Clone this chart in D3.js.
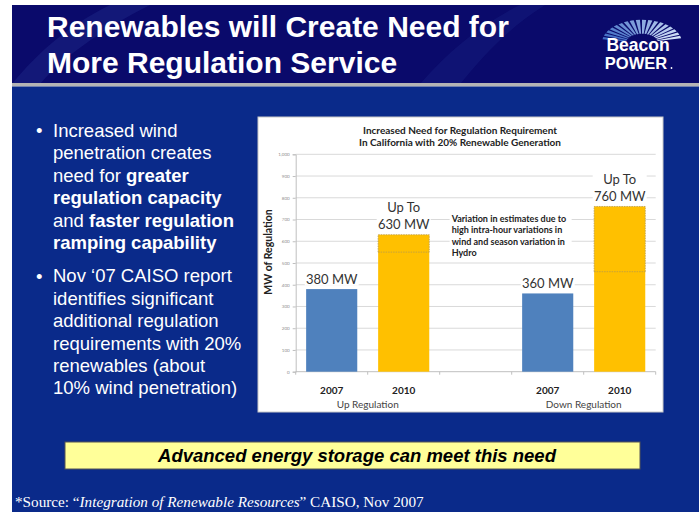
<!DOCTYPE html>
<html>
<head>
<meta charset="utf-8">
<script src="https://cdn.jsdelivr.net/npm/d3@7"></script>
<style>
  body { margin: 0; background: #fff; }
  svg { display: block; }
</style>
</head>
<body>
<div id="slide"></div>
<script>
// slide text
const titleLines = ["Renewables will Create Need for", "More Regulation Service"];
const bullet1 = [
  [["Increased wind", false]],
  [["penetration creates", false]],
  [["need for ", false], ["greater", true]],
  [["regulation capacity", true]],
  [["and ", false], ["faster regulation", true]],
  [["ramping capability", true]]
];
const bullet2 = [
  "Nov \u201807 CAISO report",
  "identifies significant",
  "additional regulation",
  "requirements with 20%",
  "renewables (about",
  "10% wind penetration)"
];
const calloutText = "Advanced energy storage can meet this need";

// chart data
const chartTitle = ["Increased Need for Regulation Requirement", "In California with 20% Renewable Generation"];
const categories = ["up2007", "up2010", "gap", "down2007", "down2010"];
const yearLabels = ["2007", "2010", "", "2007", "2010"];
const baseValues = [380, 550, 0, 360, 460];
const topValues = [380, 630, 0, 360, 760];
const barColors = ["#4f81bd", "#ffc000", "none", "#4f81bd", "#ffc000"];
const valueLabels = [["380 MW"], ["Up To", "630 MW"], [], ["360 MW"], ["Up To", "760 MW"]];
const groupLabels = ["Up Regulation", "Down Regulation"];
const groupMembers = [["up2007", "up2010"], ["down2007", "down2010"]];
const yTicks = [0, 100, 200, 300, 400, 500, 600, 700, 800, 900, 1000];
const yTitle = "MW of Regulation";
const noteLines = ["Variation in estimates due to", "high intra-hour variations in", "wind and season variation in", "Hydro"];

const W = 699, H = 512;
const svg = d3.select("#slide").append("svg").attr("width", W).attr("height", H);

// background
svg.append("rect").attr("x", 12).attr("y", 5).attr("width", W - 12).attr("height", 80).attr("fill", "#0a0a6b");
svg.append("path")
  .attr("d", "M12,84 C40,50 70,25 110,5 L150,5 C100,30 60,60 40,84 Z")
  .attr("fill", "#1f2a8a").attr("opacity", 0.45);
svg.append("path")
  .attr("d", "M420,84 C450,50 480,25 520,5 L545,5 C505,30 480,60 460,84 Z")
  .attr("fill", "#1f2a8a").attr("opacity", 0.3);
svg.append("rect").attr("x", 12).attr("y", 83).attr("width", W - 12).attr("height", 3.5).attr("fill", "#b4b4b4");
svg.append("rect").attr("x", 12).attr("y", 86.5).attr("width", W - 12).attr("height", H - 86.5).attr("fill", "#0a2a8a");

// title
svg.selectAll(".title").data(titleLines).join("text")
  .attr("x", 47).attr("y", (d, i) => 37 + i * 36)
  .attr("fill", "#fff")
  .style("font", "bold 30px 'Liberation Sans', Arial, sans-serif")
  .text(d => d);

// logo
const logo = svg.append("g").attr("transform", "translate(642,43) scale(1,0.58)");
const rays = d3.range(-78, 80, 9);
const arcGen = d3.arc().innerRadius(16).outerRadius(40);
logo.selectAll("path").data(rays).join("path")
  .attr("d", a => arcGen({ startAngle: (a - 3) * Math.PI / 180, endAngle: (a + 3) * Math.PI / 180 }))
  .attr("fill", (a, i) => d3.interpolateRgb("#3f6cc4", "#dbe8fb")(i / rays.length));
svg.append("text").attr("x", 638).attr("y", 50.5).attr("text-anchor", "middle").attr("fill", "#fff")
  .style("font", "bold 17.5px 'Liberation Sans', Arial, sans-serif").text("Beacon");
svg.append("text").attr("x", 636).attr("y", 69).attr("text-anchor", "middle").attr("fill", "#fff")
  .style("font", "bold 16.5px 'Liberation Sans', Arial, sans-serif").text("POWER");
svg.append("circle").attr("cx", 671.5).attr("cy", 68).attr("r", 0.9).attr("fill", "#fff");

// bullets
const bulletFont = "18.5px 'Liberation Sans', Arial, sans-serif";
svg.append("text").attr("x", 36).attr("y", 137).attr("fill", "#fff").style("font", bulletFont).text("\u2022");
svg.append("text").attr("x", 36).attr("y", 282.5).attr("fill", "#fff").style("font", bulletFont).text("\u2022");
bullet1.forEach((line, i) => {
  const t = svg.append("text").attr("x", 53).attr("y", 136.7 + i * 22.45).attr("fill", "#fff").style("font", bulletFont);
  line.forEach(([s, b]) => t.append("tspan").attr("font-weight", b ? "bold" : "normal").text(s));
});
svg.selectAll(".b2").data(bullet2).join("text")
  .attr("x", 53).attr("y", (d, i) => 282.3 + i * 22.4)
  .attr("fill", "#fff").style("font", bulletFont).text(d => d);

// chart panel
svg.append("rect").attr("x", 258).attr("y", 117).attr("width", 405).attr("height", 295)
  .attr("fill", "#fff").attr("stroke", "#c8c8c8").attr("stroke-width", 1);

const x0 = 295.7, x1 = 655.7, yBottom = 371.7, yTop = 154.3;
const x = d3.scaleBand().domain(categories).range([x0, x1]).paddingInner(0.29).paddingOuter(0.145);
const y = d3.scaleLinear().domain([0, 1000]).range([yBottom, yTop]);
const chartFont = "Lato, 'Open Sans', sans-serif";

svg.selectAll(".ctitle").data(chartTitle).join("text")
  .attr("x", 460).attr("y", (d, i) => 133.5 + i * 12.5).attr("text-anchor", "middle")
  .attr("fill", "#222").style("font-family", chartFont).style("font-size", "10px").style("font-weight", "bold")
  .text(d => d);

// gridlines
svg.append("g").selectAll("line").data(yTicks.filter(v => v > 0)).join("line")
  .attr("x1", x0).attr("x2", x1).attr("y1", d => y(d)).attr("y2", d => y(d))
  .attr("stroke", "#d9d9d9").attr("stroke-width", 1);

// y axis
const yAxis = svg.append("g").attr("transform", `translate(${x0},0)`)
  .call(d3.axisLeft(y).tickValues(yTicks).tickSize(3).tickPadding(3));
yAxis.select(".domain").attr("stroke", "#bfbfbf");
yAxis.selectAll(".tick line").attr("stroke", "#bfbfbf");
yAxis.selectAll(".tick text").attr("fill", "#8c8c8c").style("font-family", chartFont).style("font-size", "4.5px");

svg.append("text")
  .attr("transform", `translate(272,${(yTop + yBottom) / 2 - 11}) rotate(-90)`)
  .attr("text-anchor", "middle").attr("fill", "#222")
  .style("font-family", chartFont).style("font-size", "10.5px").style("font-weight", "bold")
  .text(yTitle);

// x axis line + ticks at band boundaries
svg.append("line").attr("x1", x0).attr("x2", x1).attr("y1", yBottom).attr("y2", yBottom).attr("stroke", "#bfbfbf");
const boundaries = categories.map(c => x(c) - x.step() * 0.145).concat([x1]);
svg.append("g").selectAll("line").data(boundaries).join("line")
  .attr("x1", d => d).attr("x2", d => d).attr("y1", yBottom).attr("y2", yBottom + 3)
  .attr("stroke", "#bfbfbf");

// bars
const barData = categories.map((c, i) => ({ c, base: baseValues[i], top: topValues[i], color: barColors[i], labels: valueLabels[i], year: yearLabels[i] }));
const bars = barData.filter(d => d.top > 0);
svg.append("g").selectAll("rect").data(bars).join("rect")
  .attr("x", d => x(d.c)).attr("width", x.bandwidth())
  .attr("y", d => y(d.top)).attr("height", d => y(0) - y(d.top))
  .attr("fill", d => d.color);

// dashed range for the estimate spread
const ranged = bars.filter(d => d.base < d.top);
svg.append("g").selectAll("path").data(ranged).join("path")
  .attr("d", d => `M${x(d.c)},${y(d.base)} L${x(d.c)},${y(d.top)} L${x(d.c) + x.bandwidth()},${y(d.top)} L${x(d.c) + x.bandwidth()},${y(d.base)}`)
  .attr("fill", "none").attr("stroke", "#b89a4a").attr("stroke-width", 0.8).attr("stroke-dasharray", "1.5,1");
svg.append("g").selectAll("line").data(ranged).join("line")
  .attr("x1", d => x(d.c)).attr("x2", d => x(d.c) + x.bandwidth())
  .attr("y1", d => y(d.base)).attr("y2", d => y(d.base))
  .attr("stroke", "#b89a4a").attr("stroke-width", 0.8).attr("stroke-dasharray", "1.5,1");

// value labels with white boxes
bars.forEach(d => {
  const n = d.labels.length;
  const cx = x(d.c) + x.bandwidth() / 2;
  const lastBase = y(d.top) - 5.5;
  svg.append("rect")
    .attr("x", cx - 27).attr("width", 54)
    .attr("y", lastBase - 10.5 - (n - 1) * 17).attr("height", 12.5 + (n - 1) * 17)
    .attr("fill", "#fff");
  d.labels.forEach((s, k) => {
    svg.append("text").attr("x", cx).attr("y", lastBase - (n - 1 - k) * 17)
      .attr("text-anchor", "middle").attr("fill", "#333")
      .style("font-family", chartFont).style("font-size", "13px")
      .text(s);
  });
});

// note
const noteX = x("gap") + 1.5;
svg.append("rect").attr("x", noteX - 2).attr("y", y(690) - 8).attr("width", 122).attr("height", 46).attr("fill", "#fff");
svg.selectAll(".note").data(noteLines).join("text")
  .attr("x", noteX).attr("y", (d, i) => y(690) + i * 11.5)
  .attr("fill", "#222").style("font-family", chartFont).style("font-size", "9px").style("font-weight", "bold")
  .text(d => d);

// category + group labels
svg.selectAll(".year").data(barData.filter(d => d.year)).join("text")
  .attr("x", d => x(d.c) + x.bandwidth() / 2).attr("y", 393.5)
  .attr("text-anchor", "middle").attr("fill", "#222")
  .style("font-family", chartFont).style("font-size", "10px").style("font-weight", "bold")
  .text(d => d.year);
svg.selectAll(".group").data(groupLabels).join("text")
  .attr("x", (d, i) => (x(groupMembers[i][0]) + x(groupMembers[i][1]) + x.bandwidth()) / 2).attr("y", 407.5)
  .attr("text-anchor", "middle").attr("fill", "#444")
  .style("font-family", chartFont).style("font-size", "10px")
  .text(d => d);

// callout
svg.append("rect").attr("x", 65).attr("y", 442).attr("width", 575).attr("height", 27)
  .attr("fill", "#ffff99").attr("stroke", "#555").attr("stroke-width", 1);
svg.append("text").attr("x", 357).attr("y", 462).attr("text-anchor", "middle").attr("fill", "#000")
  .style("font", "italic bold 18.5px 'Liberation Sans', Arial, sans-serif")
  .text(calloutText);

// source
const src = svg.append("text").attr("x", 15).attr("y", 507).attr("fill", "#fff")
  .style("font", "15.2px 'Liberation Serif', 'Times New Roman', serif");
src.append("tspan").text("*Source: \u201C");
src.append("tspan").attr("font-style", "italic").text("Integration of Renewable Resources");
src.append("tspan").text("\u201D CAISO, Nov 2007");
</script>
</body>
</html>
